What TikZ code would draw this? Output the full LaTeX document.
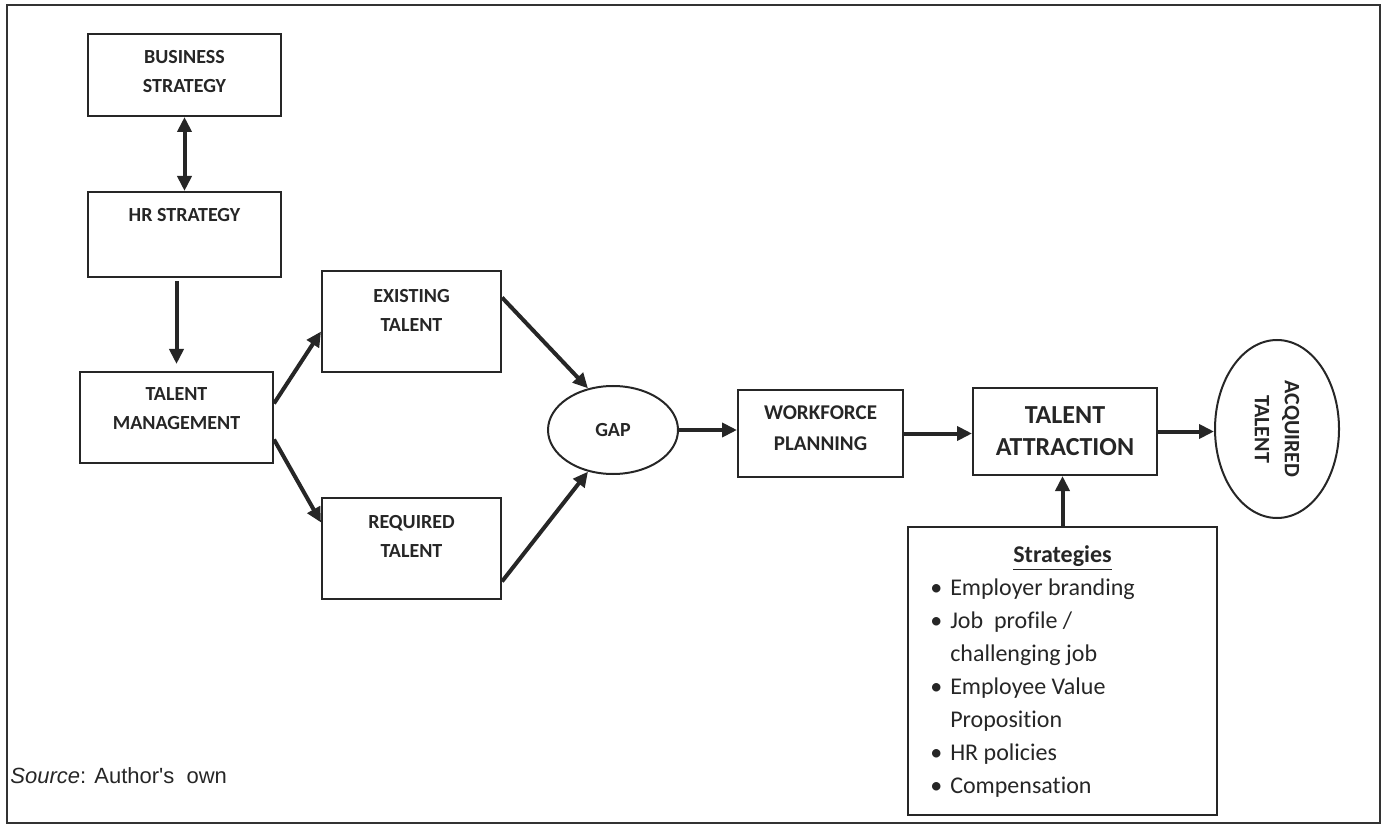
\documentclass[tikz,border=0pt]{standalone}
\usepackage{fontspec}
\setmainfont{Carlito}[Ligatures={TeX,NoCommon}]
\newfontfamily\srcfont{Liberation Sans}
\usetikzlibrary{arrows.meta,shapes.geometric}

\tikzset{
  box/.style={draw=black!85, line width=1pt, inner sep=0pt},
  oval/.style={box, ellipse},
  txt/.style={font=\bfseries\fontsize{10}{14.5}\selectfont, align=center, text=black!85},
  flow/.style={line width=2pt, draw=black!85, -{Triangle[length=7.5pt,width=7pt]}},
  both/.style={flow, {Triangle[length=7.5pt,width=7pt]}-{Triangle[length=7.5pt,width=7pt]}},
}

\begin{document}
\begin{tikzpicture}[x=0.5pt, y=-0.5pt]
  \useasboundingbox (0,0) rectangle (1384,833);
  \draw[line width=1pt, black!80] (7,5) rectangle (1380,823);

  % left column
  \node[box, minimum width=96.5pt, minimum height=41pt,
        label={[txt, yshift=1.5pt]center:{BUSINESS\\STRATEGY}}] (bs) at (184.5,75) {};
  \node[box, minimum width=96.5pt, minimum height=42.5pt,
        label={[txt, yshift=9.75pt]center:{HR STRATEGY}}] (hr) at (184.5,234.5) {};
  \node[box, minimum width=96.5pt, minimum height=45.5pt,
        label={[txt, yshift=4.25pt]center:{TALENT\\MANAGEMENT}}] (tm) at (176.5,417.5) {};

  % existing / required
  \node[box, minimum width=89.5pt, minimum height=50.5pt,
        label={[txt, yshift=5.75pt]center:{EXISTING\\TALENT}}] (et) at (411.5,321.5) {};
  \node[box, minimum width=89.5pt, minimum height=50.5pt,
        label={[txt, yshift=6.25pt]center:{REQUIRED\\TALENT}}] (rt) at (411.5,548.5) {};
  \node[oval, minimum width=65pt, minimum height=44pt, txt] (gap) at (613,430) {GAP};

  % right part
  \node[box, minimum width=82.5pt, minimum height=43.5pt,
        label={[txt, font=\bfseries\fontsize{10.5}{15.5}\selectfont, yshift=2.75pt]center:{WORKFORCE\\PLANNING}}] (wp) at (820.5,433.5) {};
  \node[box, minimum width=92pt, minimum height=43.5pt,
        label={[txt, font=\bfseries\fontsize{13}{16}\selectfont]center:{TALENT\\ATTRACTION}}] (ta) at (1065,431.5) {};
  \node[oval, minimum width=62pt, minimum height=89pt,
        label={[txt, font=\bfseries\fontsize{11}{15}\selectfont, rotate=-90]center:{ACQUIRED\\TALENT}}] (at) at (1277,429) {};

  \node[box, minimum width=154.5pt, minimum height=144pt, text=black!85,
        font=\fontsize{12}{16.5}\selectfont] (st) at (1062.5,671)
    {\begin{tabular}{@{}l@{\hspace{4pt}}l@{}}
      \multicolumn{2}{c}{\hspace{30pt}\underline{\textbf{Strategies}}}\\
      \textbullet & Employer branding\\
      \textbullet & Job\ \ profile /\\
                  & challenging job\\
      \textbullet & Employee Value\\
                  & Proposition\\
      \textbullet & HR policies\\
      \textbullet & Compensation
    \end{tabular}\hspace*{30pt}};

  \node[anchor=west, inner sep=0pt, text=black!85, font=\srcfont\fontsize{11}{12}\selectfont] (src) at (10,776)
    {\textit{Source}: Author's\ \ own};

  % connectors
  \draw[both] (bs) -- (hr);
  \draw[flow, shorten <=1.5pt, shorten >=3.5pt] (tm.north |- hr.south) -- (tm.north);
  \draw[flow] ([yshift=7pt]tm.east) -- ([yshift=-5pt]et.west);
  \draw[flow] ([yshift=-11pt]tm.east) -- ([yshift=13pt]rt.west);
  \draw[flow] ([yshift=12pt]et.east) -- (gap.121);
  \draw[flow] ([yshift=-16.5pt]rt.east) -- (gap.239);
  \draw[flow] (gap.east) -- (gap.east -| wp.west);
  \draw[flow] (wp.east) -- (wp.east -| ta.west);
  \draw[flow] (ta.east) -- (ta.east -| at.west);
  \draw[flow] (st.north) -- (st.north |- ta.south);
\end{tikzpicture}
\end{document}
